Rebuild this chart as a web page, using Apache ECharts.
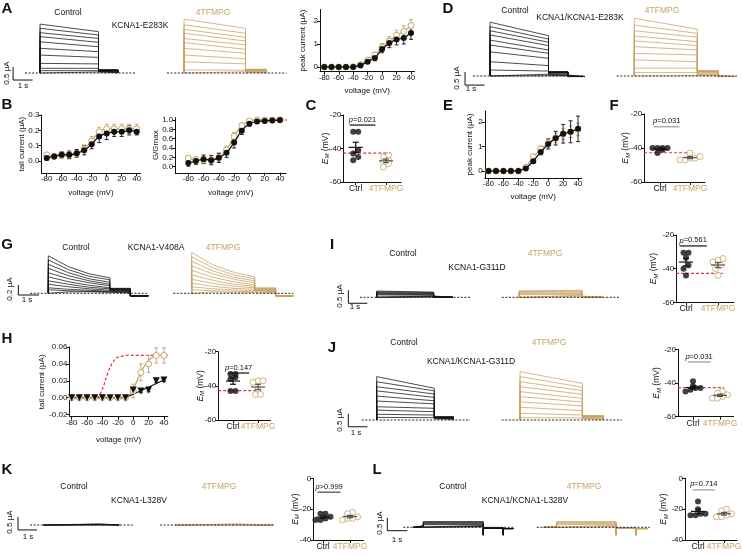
<!DOCTYPE html>
<html>
<head>
<meta charset="utf-8">
<script src="https://cdn.jsdelivr.net/npm/echarts@6.0.0/dist/echarts.min.js"></script>
<style>
  html, body { margin: 0; padding: 0; background: #fff; }
  #chart { width: 742px; height: 556px; }
</style>
</head>
<body>
<div id="chart"></div>
<script>
// ---------- data ----------
const voltages = [-80, -70, -60, -50, -40, -30, -20, -10, 0, 10, 20, 30, 40];
const xTickValues = [-80, -60, -40, -20, 0, 20, 40];

// protocol (s)
const STEP_ON = 0, STEP_OFF = 3, TAIL_OFF = 4;

// A  KCNA1-E283K current families (uA)
const aCtrlPeak = [1.88, 1.72, 1.55, 1.40, 1.20, 0.95, 0.69, 0.37, 0.18, 0.09, 0.04];
const aCtrlEnd  = [1.59, 1.46, 1.33, 1.18, 1.01, 0.82, 0.60, 0.35, 0.18, 0.09, 0.04];
const aCtrlTail = [0.12, 0.12, 0.11, 0.11, 0.10, 0.09, 0.08, 0.06, 0.04, 0.02, 0.01];
const aTanPeak  = [2.07, 1.85, 1.68, 1.53, 1.33, 1.17, 0.95, 0.69, 0.43, 0.12, 0.05];
const aTanEnd   = [1.72, 1.53, 1.37, 1.23, 1.08, 0.91, 0.76, 0.55, 0.35, 0.11, 0.05];
const aTanTail  = [0.14, 0.14, 0.13, 0.13, 0.12, 0.11, 0.10, 0.08, 0.06, 0.02, 0.01];

// A  peak current I-V
const aPeakCtrl    = [0, 0, 0, 0, 0, 0.06, 0.23, 0.39, 0.78, 1.04, 1.20, 1.26, 1.48];
const aPeakCtrlErr = [0.02, 0.02, 0.02, 0.02, 0.02, 0.04, 0.08, 0.12, 0.16, 0.20, 0.24, 0.26, 0.28];
const aPeakTan     = [0, 0, 0, 0, 0.01, 0.10, 0.30, 0.52, 0.86, 1.12, 1.38, 1.55, 1.80];
const aPeakTanErr  = [0.02, 0.02, 0.02, 0.02, 0.02, 0.05, 0.10, 0.12, 0.16, 0.20, 0.22, 0.24, 0.26];

// B  tail current and G/Gmax
const bTailCtrl    = [0.02, 0.03, 0.04, 0.04, 0.05, 0.07, 0.11, 0.16, 0.18, 0.19, 0.19, 0.20, 0.19];
const bTailCtrlErr = [0.015, 0.015, 0.02, 0.025, 0.025, 0.03, 0.03, 0.04, 0.04, 0.03, 0.03, 0.03, 0.02];
const bTailTan     = [0.04, 0.03, 0.04, 0.04, 0.05, 0.08, 0.13, 0.19, 0.21, 0.21, 0.21, 0.21, 0.21];
const bTailTanErr  = [0.01, 0.015, 0.015, 0.02, 0.02, 0.025, 0.03, 0.03, 0.03, 0.03, 0.03, 0.03, 0.03];
const bGCtrl    = [0.08, 0.12, 0.16, 0.14, 0.19, 0.30, 0.52, 0.77, 0.92, 0.97, 0.98, 0.99, 1.00];
const bGCtrlErr = [0.07, 0.07, 0.09, 0.10, 0.10, 0.10, 0.12, 0.08, 0.05, 0.03, 0.02, 0.02, 0.01];
const bGTan     = [0.18, 0.15, 0.14, 0.15, 0.20, 0.36, 0.65, 0.88, 0.98, 1.00, 1.00, 1.00, 1.00];
const bGTanErr  = [0.05, 0.06, 0.08, 0.08, 0.08, 0.08, 0.08, 0.05, 0.03, 0.02, 0.01, 0.01, 0.01];
const bGRefV = [0, 10, 20, 30, 40, 50];
const bGRef  = [0.99, 1, 1, 1, 1, 1];

// D  KCNA1/KCNA1-E283K families
const dCtrlPeak = [2.07, 1.90, 1.74, 1.58, 1.38, 1.19, 0.93, 0.55, 0.23, 0.07, 0.01];
const dCtrlEnd  = [1.55, 1.42, 1.30, 1.17, 1.00, 0.87, 0.68, 0.40, 0.19, 0.07, 0.01];
const dCtrlTail = [0.16, 0.16, 0.15, 0.15, 0.14, 0.13, 0.11, 0.08, 0.04, 0.02, 0.01];
const dTanPeak  = [2.22, 1.96, 1.74, 1.54, 1.35, 1.13, 0.87, 0.62, 0.30, 0.13, 0.02];
const dTanEnd   = [1.80, 1.64, 1.49, 1.32, 1.17, 1.00, 0.81, 0.55, 0.30, 0.13, 0.02];
const dTanTail  = [0.20, 0.20, 0.19, 0.18, 0.17, 0.16, 0.14, 0.10, 0.06, 0.03, 0.01];
const dPost = -0.02;

// E  peak current I-V
const ePeakCtrl    = [0, 0, 0, 0, 0, 0.10, 0.40, 0.78, 1.10, 1.34, 1.52, 1.60, 1.72];
const ePeakCtrlErr = [0.02, 0.02, 0.02, 0.02, 0.02, 0.04, 0.08, 0.12, 0.20, 0.28, 0.38, 0.45, 0.52];
const ePeakTan     = [0, 0, 0, 0, 0, 0.15, 0.58, 0.90, 1.15, 1.35, 1.50, 1.60, 1.70];
const ePeakTanErr  = [0.02, 0.02, 0.02, 0.02, 0.02, 0.05, 0.10, 0.12, 0.18, 0.20, 0.22, 0.24, 0.26];

// G  KCNA1-V408A families
const gCtrlPeak = [0.75, 0.67, 0.58, 0.50, 0.41, 0.33, 0.25, 0.18, 0.11, 0.07, 0.03];
const gCtrlAt1s = [0.53, 0.47, 0.41, 0.35, 0.29, 0.23, 0.18, 0.13, 0.08, 0.05, 0.03];
const gCtrlAt2s = [0.39, 0.34, 0.29, 0.25, 0.21, 0.16, 0.12, 0.09, 0.06, 0.04, 0.03];
const gCtrlEnd  = [0.31, 0.27, 0.22, 0.18, 0.15, 0.11, 0.09, 0.06, 0.04, 0.03, 0.02];
const gCtrlTail = [0.10, 0.09, 0.09, 0.08, 0.07, 0.06, 0.05, 0.04, 0.03, 0.02, 0.01];
const gTanPeak  = [0.82, 0.73, 0.64, 0.55, 0.46, 0.37, 0.28, 0.20, 0.13, 0.07, 0.03];
const gTanAt1s  = [0.57, 0.51, 0.45, 0.39, 0.32, 0.26, 0.20, 0.14, 0.09, 0.05, 0.03];
const gTanAt2s  = [0.42, 0.37, 0.32, 0.28, 0.23, 0.18, 0.14, 0.10, 0.07, 0.04, 0.02];
const gTanEnd   = [0.33, 0.29, 0.25, 0.21, 0.17, 0.14, 0.11, 0.08, 0.05, 0.03, 0.02];
const gTanTail  = [0.11, 0.10, 0.09, 0.08, 0.07, 0.06, 0.05, 0.04, 0.03, 0.02, 0.01];
const gPost = -0.05;

// H  tail current (uA)
const hTailCtrl    = [0, 0, 0, 0, 0, 0, 0, 0, 0.009, 0.008, 0.009, 0.020, 0.021];
const hTailCtrlErr = [0.001, 0.001, 0.001, 0.001, 0.001, 0.001, 0.001, 0.001, 0.002, 0.002, 0.002, 0.002, 0.002];
const hTailTan     = [0, 0, 0, 0, 0, 0, 0, 0, 0.008, 0.030, 0.040, 0.050, 0.050];
const hTailTanErr  = [0.001, 0.001, 0.001, 0.001, 0.001, 0.001, 0.001, 0.001, 0.008, 0.010, 0.010, 0.009, 0.009];
const hCtrlFitV = [-80, -10, 40];
const hCtrlFit  = [0, 0, 0.021];
const hTanFitV = [-80, -10, -5, 0, 5, 10, 15, 20, 25, 30, 35, 40];
const hTanFit  = [0, 0, 0.003, 0.010, 0.020, 0.030, 0.038, 0.044, 0.048, 0.050, 0.050, 0.050];
const hRefV = [-48, -45, -40, -35, -30, -25, -20, -15, -10, 0, 10, 20, 30, 40, 45];
const hRef  = [0, 0.002, 0.010, 0.024, 0.036, 0.044, 0.048, 0.049, 0.050, 0.050, 0.050, 0.050, 0.050, 0.050, 0.050];

// I  KCNA1-G311D families
const iCtrlPeak = [0.24, 0.21, 0.18, 0.15, 0.12, 0.09, 0.06, 0.03, 0.01];
const iCtrlEnd  = [0.20, 0.18, 0.15, 0.13, 0.10, 0.08, 0.05, 0.03, 0.01];
const iCtrlTail = [0.01, 0.01, 0.01, 0.01, 0.01, 0, 0, 0, 0];
const iTanPeak  = [0.25, 0.22, 0.19, 0.16, 0.13, 0.10, 0.07, 0.04, 0.01];
const iTanEnd   = [0.27, 0.24, 0.21, 0.17, 0.14, 0.11, 0.08, 0.05, 0.02];
const iTanTail  = [0.01, 0.01, 0.01, 0.01, 0.01, 0, 0, 0, 0];

// J  KCNA1/KCNA1-G311D families
const jCtrlPeak = [1.67, 1.47, 1.28, 1.12, 0.92, 0.73, 0.51, 0.38, 0.22, 0.10];
const jCtrlEnd  = [1.22, 1.12, 1.00, 0.87, 0.74, 0.62, 0.45, 0.32, 0.19, 0.09];
const jCtrlTail = [0.12, 0.12, 0.11, 0.11, 0.10, 0.09, 0.08, 0.06, 0.04, 0.02];
const jTanPeak  = [1.86, 1.67, 1.47, 1.28, 1.09, 0.90, 0.70, 0.49, 0.26, 0.09];
const jTanEnd   = [1.41, 1.26, 1.13, 0.99, 0.83, 0.69, 0.54, 0.36, 0.19, 0.08];
const jTanTail  = [0.17, 0.16, 0.15, 0.14, 0.13, 0.12, 0.10, 0.07, 0.04, 0.02];

// K  KCNA1-L328V families
const kCtrlPeak = [0.04, 0.03, 0.02, 0.01, 0];
const kCtrlEnd  = [0.04, 0.03, 0.02, 0.01, 0];
const kCtrlTail = [0, 0, 0, 0, 0];
const kTanPeak  = [0.04, 0.03, 0.02, 0.01, 0];
const kTanEnd   = [0.04, 0.03, 0.02, 0.01, 0];
const kTanTail  = [0, 0, 0, 0, 0];
const kPost = 0;

// L  KCNA1/KCNA1-L328V families
const lCtrlPre  = [0.06, 0.05, 0.04, 0.03, 0.02, 0.01, 0, 0];
const lCtrlPeak = [0.22, 0.19, 0.16, 0.13, 0.10, 0.07, 0.04, 0.02];
const lCtrlEnd  = [0.22, 0.19, 0.16, 0.13, 0.10, 0.07, 0.04, 0.02];
const lCtrlTail = [-0.04, -0.04, -0.04, -0.03, -0.03, -0.02, -0.02, -0.01];
const lTanPre   = [0.05, 0.04, 0.03, 0.02, 0.02, 0.01, 0, 0];
const lTanPeak  = [0.22, 0.19, 0.16, 0.13, 0.10, 0.07, 0.04, 0.02];
const lTanEnd   = [0.22, 0.19, 0.16, 0.13, 0.10, 0.07, 0.04, 0.02];
const lTanTail  = [-0.04, -0.04, -0.04, -0.03, -0.03, -0.02, -0.02, -0.01];
const lSpike = -0.3;
const lPost = -0.05;

// resting potentials E_M (mV)
const wtEm = -42.8;
const cEmCtrl = [-30, -30, -41, -43, -45, -47];
const cEmTan  = [-44, -45, -47, -48, -49, -51];
const fEmCtrl = [-40, -40, -40, -40, -41, -43];
const fEmTan  = [-43, -45, -46, -46, -47, -47];
const hEmCtrl = [-33, -33, -35, -36, -43, -43];
const hEmTan  = [-37, -37, -38, -42, -45, -45];
const iEmCtrl = [-30.5, -30.5, -33.5, -38, -40, -44];
const iEmTan  = [-34, -35, -36, -38, -40, -44];
const jEmCtrl = [-39, -42, -43, -43, -44, -45];
const jEmTan  = [-45, -46, -47, -48, -49, -49];
const kEmCtrl = [-23, -23, -25, -26, -27, -27];
const kEmTan  = [-22, -23, -25, -26, -26, -27];
const lEmCtrl = [-15, -20, -23, -23, -24, -24];
const lEmTan  = [-20, -21, -23, -24, -25, -25];
const pLabels = { C: '=0.021', F: '=0.031', H: '=0.147', I: '=0.561', J: '=0.031', K: '>0.999', L: '=0.714' };

// ---------- style ----------
const FONT = '"Liberation Sans", Arial, sans-serif';
const BLACK = '#111';
const TAN = '#c6a264';
const RED = '#e0353d';

const grids = [], xAxes = [], yAxes = [], series = [], graphics = [];

function pxGrid(zeroX, sx, xMin, xMax, zeroY, sy, yMin, yMax) {
  grids.push({
    left: zeroX + xMin * sx, width: (xMax - xMin) * sx,
    top: zeroY - yMax * sy, height: (yMax - yMin) * sy,
    containLabel: false, outerBoundsMode: 'none'
  });
  return grids.length - 1;
}

function txt(text, x, y, o = {}) {
  graphics.push({
    type: 'text', x: x, y: y, rotation: o.rot || 0, silent: true,
    style: {
      text: text, fill: o.color || BLACK, fontFamily: FONT,
      fontSize: o.size || 8.5, fontWeight: o.bold ? 'bold' : 'normal',
      align: 'center', verticalAlign: 'middle', textAlign: 'center', textVerticalAlign: 'middle'
    }
  });
}

// ---------- current traces ----------
function sweepPath(f, lay, i) {
  const pts = [];
  if (f.pre) {
    pts.push([lay.preStart, 0], [lay.preStart, f.pre[i]], [STEP_ON, f.pre[i]]);
  } else {
    pts.push([STEP_ON, 0]);
  }
  pts.push([STEP_ON, f.peak[i]]);
  if (f.at1) pts.push([1, f.at1[i]]);
  if (f.at2) pts.push([2, f.at2[i]]);
  pts.push([STEP_OFF, f.end[i]]);
  if (f.spike != null) pts.push([STEP_OFF, f.spike]);
  pts.push([STEP_OFF, f.tail[i]], [TAIL_OFF, f.tail[i]]);
  if (f.spike != null) pts.push([TAIL_OFF, f.spike]);
  if (f.post != null) pts.push([TAIL_OFF, f.post], [lay.postEnd, f.post]);
  else pts.push([TAIL_OFF, 0]);
  return pts;
}

function traceLine(xi, yi, pts, color, width, z, dash) {
  series.push({
    type: 'line', xAxisIndex: xi, yAxisIndex: yi, data: pts, silent: true, z: z,
    showSymbol: false, symbol: 'none', clip: false,
    lineStyle: { color: color, width: width, type: dash || 'solid' }
  });
}

function addTraces(lay, f, color) {
  const xMin = -2.5, xMax = 5.5;
  const g = pxGrid(lay.t0, lay.ps, xMin, xMax, lay.base, lay.pu, lay.yMin, lay.yMax);
  xAxes.push({ gridIndex: g, type: 'value', min: xMin, max: xMax, show: false });
  yAxes.push({ gridIndex: g, type: 'value', min: lay.yMin, max: lay.yMax, show: false });
  const xi = xAxes.length - 1, yi = yAxes.length - 1;
  f.peak.forEach((p, i) => traceLine(xi, yi, sweepPath(f, lay, i), color, 0.75, 2));
  traceLine(xi, yi, [[lay.dot[0], 0], [lay.dot[1], 0]], '#222', 1, 3, [2, 1.6]);
  if (lay.bar) {
    const b = lay.bar;
    traceLine(xi, yi, [[b.t, b.y + b.v], [b.t, b.y], [b.t + 1, b.y]], BLACK, 1, 3);
  }
}

const traceLayout = {
  aCtrl: { t0: 40, ps: 19.5, base: 73, pu: 26, yMin: -0.5, yMax: 2.4, dot: [-0.77, 4.87], bar: { t: -1.38, y: -0.27, v: 0.5 } },
  aTan:  { t0: 184, ps: 20.5, base: 73, pu: 26, yMin: -0.5, yMax: 2.4, dot: [-0.83, 5.0] },
  dCtrl: { t0: 490, ps: 19.5, base: 76, pu: 26, yMin: -0.5, yMax: 2.4, dot: [-0.87, 4.87], bar: { t: -1.28, y: -0.35, v: 0.5 }, postEnd: 4.85 },
  dTan:  { t0: 634.3, ps: 21, base: 76, pu: 26, yMin: -0.5, yMax: 2.4, dot: [-0.84, 4.88], postEnd: 4.85 },
  gCtrl: { t0: 48.3, ps: 20.5, base: 293.3, pu: 50, yMin: -0.2, yMax: 0.9, dot: [-0.89, 4.88], bar: { t: -1.46, y: -0.034, v: 0.2 }, postEnd: 4.88 },
  gTan:  { t0: 191.7, ps: 21, base: 293.3, pu: 50, yMin: -0.2, yMax: 0.9, dot: [-0.88, 4.84], postEnd: 4.84 },
  iCtrl: { t0: 376.7, ps: 19, base: 297.3, pu: 26, yMin: -0.5, yMax: 0.6, dot: [-0.88, 4.91], bar: { t: -1.49, y: -0.23, v: 0.5 } },
  iTan:  { t0: 519, ps: 21, base: 297.3, pu: 26, yMin: -0.5, yMax: 0.6, dot: [-0.82, 4.81] },
  jCtrl: { t0: 376.7, ps: 19.2, base: 420, pu: 26, yMin: -0.5, yMax: 2.0, dot: [-0.78, 4.86], bar: { t: -1.48, y: -0.26, v: 0.5 } },
  jTan:  { t0: 520, ps: 20.8, base: 420, pu: 26, yMin: -0.5, yMax: 2.0, dot: [-0.88, 4.89] },
  kCtrl: { t0: 43.3, ps: 19, base: 525, pu: 26, yMin: -0.5, yMax: 0.6, dot: [-0.7, 4.74], bar: { t: -1.33, y: -0.19, v: 0.5 } },
  kTan:  { t0: 175, ps: 21, base: 525, pu: 26, yMin: -0.5, yMax: 0.6, dot: [-0.71, 4.68], postEnd: 4.68 },
  lCtrl: { t0: 423.3, ps: 20, base: 527.3, pu: 26, yMin: -0.5, yMax: 0.6, dot: [-1.0, 4.5], bar: { t: -1.8, y: -0.13, v: 0.5 }, preStart: -0.5, postEnd: 4.5 },
  lTan:  { t0: 556.7, ps: 19.8, base: 527.3, pu: 26, yMin: -0.5, yMax: 0.6, dot: [-1.01, 4.71], preStart: -0.68, postEnd: 4.6 }
};

addTraces(traceLayout.aCtrl, { peak: aCtrlPeak, end: aCtrlEnd, tail: aCtrlTail }, BLACK);
addTraces(traceLayout.aTan, { peak: aTanPeak, end: aTanEnd, tail: aTanTail }, TAN);
addTraces(traceLayout.dCtrl, { peak: dCtrlPeak, end: dCtrlEnd, tail: dCtrlTail, post: dPost }, BLACK);
addTraces(traceLayout.dTan, { peak: dTanPeak, end: dTanEnd, tail: dTanTail, post: dPost }, TAN);
addTraces(traceLayout.gCtrl, { peak: gCtrlPeak, at1: gCtrlAt1s, at2: gCtrlAt2s, end: gCtrlEnd, tail: gCtrlTail, post: gPost }, BLACK);
addTraces(traceLayout.gTan, { peak: gTanPeak, at1: gTanAt1s, at2: gTanAt2s, end: gTanEnd, tail: gTanTail, post: gPost }, TAN);
addTraces(traceLayout.iCtrl, { peak: iCtrlPeak, end: iCtrlEnd, tail: iCtrlTail }, BLACK);
addTraces(traceLayout.iTan, { peak: iTanPeak, end: iTanEnd, tail: iTanTail }, TAN);
addTraces(traceLayout.jCtrl, { peak: jCtrlPeak, end: jCtrlEnd, tail: jCtrlTail }, BLACK);
addTraces(traceLayout.jTan, { peak: jTanPeak, end: jTanEnd, tail: jTanTail }, TAN);
addTraces(traceLayout.kCtrl, { peak: kCtrlPeak, end: kCtrlEnd, tail: kCtrlTail }, BLACK);
addTraces(traceLayout.kTan, { peak: kTanPeak, end: kTanEnd, tail: kTanTail, post: kPost }, TAN);
addTraces(traceLayout.lCtrl, { pre: lCtrlPre, peak: lCtrlPeak, end: lCtrlEnd, tail: lCtrlTail, spike: lSpike, post: lPost }, BLACK);
addTraces(traceLayout.lTan, { pre: lTanPre, peak: lTanPeak, end: lTanEnd, tail: lTanTail, spike: lSpike, post: lPost }, TAN);

// ---------- x-y plots ----------
function axisPair(g, c) {
  const lbl = { fontSize: c.fs || 8, fontFamily: FONT, color: BLACK, margin: 2 };
  const xl = Object.assign({}, lbl, { fontSize: c.xfs || c.fs || 8 });
  xAxes.push({
    gridIndex: g, type: 'value', min: c.xMin, max: c.xMax,
    axisLine: { onZero: false, lineStyle: { color: BLACK, width: 1 } },
    axisTick: { length: 3, customValues: c.xTicks, lineStyle: { color: BLACK } },
    axisLabel: Object.assign({ customValues: c.xTicks, formatter: c.xFmt || (v => String(v)), rich: c.xRich }, xl),
    splitLine: { show: false },
    name: c.xName, nameLocation: 'middle', nameGap: c.xGap, nameMoveOverlap: false,
    nameTextStyle: { fontSize: 8, fontFamily: FONT, color: BLACK }
  });
  yAxes.push({
    gridIndex: g, type: 'value', min: c.yMin, max: c.yMax,
    axisLine: { onZero: false, lineStyle: { color: BLACK, width: 1 } },
    axisTick: { length: 3, customValues: c.yTicks, lineStyle: { color: BLACK } },
    axisLabel: Object.assign({ customValues: c.yTicks, formatter: c.yFmt || (v => String(v)) }, lbl),
    splitLine: { show: false },
    name: c.yName, nameLocation: 'middle', nameGap: c.yGap, nameMoveOverlap: false,
    nameTextStyle: Object.assign({ fontSize: 8, fontFamily: FONT, color: BLACK }, c.yNameStyle || {})
  });
  return [xAxes.length - 1, yAxes.length - 1];
}

function errorBars(xi, yi, xs, ys, es, color) {
  series.push({
    type: 'custom', xAxisIndex: xi, yAxisIndex: yi, silent: true, z: 2,
    data: xs.map((x, i) => [x, ys[i], es[i]]),
    renderItem: function (params, api) {
      const x = api.value(0), y = api.value(1), e = api.value(2);
      const hi = api.coord([x, y + e]), lo = api.coord([x, y - e]);
      const st = { stroke: color, lineWidth: 0.9 };
      return { type: 'group', children: [
        { type: 'line', shape: { x1: hi[0], y1: hi[1], x2: lo[0], y2: lo[1] }, style: st },
        { type: 'line', shape: { x1: hi[0] - 2, y1: hi[1], x2: hi[0] + 2, y2: hi[1] }, style: st },
        { type: 'line', shape: { x1: lo[0] - 2, y1: lo[1], x2: lo[0] + 2, y2: lo[1] }, style: st }
      ] };
    }
  });
}

function ivSeries(xi, yi, xs, ys, es, isTan, o = {}) {
  const color = isTan ? TAN : BLACK;
  errorBars(xi, yi, xs, ys, es, color);
  series.push({
    type: 'line', xAxisIndex: xi, yAxisIndex: yi, silent: true, z: isTan ? 3 : 4,
    data: xs.map((x, i) => [x, ys[i]]),
    smooth: o.smooth || false,
    lineStyle: { color: color, width: o.noLine ? 0 : 1.2, opacity: o.noLine ? 0 : 1 },
    symbol: o.symbol || 'circle', symbolSize: o.size || 6, symbolRotate: o.rotate || 0,
    itemStyle: isTan ? { color: '#fff', borderColor: TAN, borderWidth: 1 } : { color: BLACK, borderWidth: 0 }
  });
}

function plainLine(xi, yi, xs, ys, color, o = {}) {
  series.push({
    type: 'line', xAxisIndex: xi, yAxisIndex: yi, silent: true, z: o.z || 2,
    data: xs.map((x, i) => [x, ys[i]]), smooth: o.smooth || false, showSymbol: false, symbol: 'none',
    lineStyle: { color: color, width: o.width || 1.2, type: o.type || 'solid' }
  });
}

const fmt1 = v => v.toFixed(1);
const fmt2 = v => v.toFixed(2);

// A: peak current
{
  const g = pxGrid(382.1, 0.7225, -86, 45, 67, 23, -0.2, 2.5);
  const [xi, yi] = axisPair(g, { xMin: -86, xMax: 45, yMin: -0.2, yMax: 2.5, xTicks: xTickValues, yTicks: [0, 1, 2],
    xName: 'voltage (mV)', xGap: 15, yName: 'peak current (\u00b5A)', yGap: 13.5, fs: 8, xfs: 7.5 });
  ivSeries(xi, yi, voltages, aPeakTan, aPeakTanErr, true);
  ivSeries(xi, yi, voltages, aPeakCtrl, aPeakCtrlErr, false);
}
// B: tail current
{
  const g = pxGrid(106.7, 0.75, -87, 45, 161, 153.3, -0.08, 0.3);
  const [xi, yi] = axisPair(g, { xMin: -87, xMax: 45, yMin: -0.08, yMax: 0.3, xTicks: xTickValues, yTicks: [0, 0.1, 0.2, 0.3],
    yFmt: fmt1, xName: 'voltage (mV)', xGap: 15.5, yName: 'tail current (\u00b5A)', yGap: 16, fs: 8, xfs: 8 });
  ivSeries(xi, yi, voltages, bTailTan, bTailTanErr, true, { smooth: 0.4 });
  ivSeries(xi, yi, voltages, bTailCtrl, bTailCtrlErr, false, { smooth: 0.4 });
}
// B: G/Gmax
{
  const g = pxGrid(249.4, 0.764, -97, 48, 166.7, 46.7, -0.13, 1.05);
  const [xi, yi] = axisPair(g, { xMin: -97, xMax: 48, yMin: -0.13, yMax: 1.05, xTicks: xTickValues, yTicks: [0, 0.2, 0.4, 0.6, 0.8, 1.0],
    yFmt: fmt1, xName: 'voltage (mV)', xGap: 16, yName: 'G/Gmax', yGap: 15, fs: 8, xfs: 8 });
  plainLine(xi, yi, bGRefV, bGRef, RED, { type: [3, 2], width: 1.2, z: 1 });
  ivSeries(xi, yi, voltages, bGTan, bGTanErr, true, { smooth: 0.4 });
  ivSeries(xi, yi, voltages, bGCtrl, bGCtrlErr, false, { smooth: 0.4 });
}
// E: peak current
{
  const g = pxGrid(548.2, 0.746, -85, 45, 171, 24.5, -0.28, 2.45);
  const [xi, yi] = axisPair(g, { xMin: -85, xMax: 45, yMin: -0.28, yMax: 2.45, xTicks: xTickValues, yTicks: [0, 1, 2],
    xName: 'voltage (mV)', xGap: 15, yName: 'peak current (\u00b5A)', yGap: 11, fs: 8, xfs: 7.5 });
  ivSeries(xi, yi, voltages, ePeakTan, ePeakTanErr, true);
  ivSeries(xi, yi, voltages, ePeakCtrl, ePeakCtrlErr, false);
}
// H: tail current
{
  const g = pxGrid(133.2, 0.769, -83, 45, 397.7, 845, -0.0225, 0.06);
  const [xi, yi] = axisPair(g, { xMin: -83, xMax: 45, yMin: -0.0225, yMax: 0.06, xTicks: xTickValues, yTicks: [-0.02, 0, 0.02, 0.04, 0.06],
    yFmt: fmt2, xName: 'voltage (mV)', xGap: 19, yName: 'tail current (\u00b5A)', yGap: 24, fs: 8, xfs: 8 });
  plainLine(xi, yi, hRefV, hRef, RED, { type: [3, 2], width: 1.2, smooth: 0.3, z: 1 });
  plainLine(xi, yi, hTanFitV, hTanFit, TAN, { smooth: 0.3 });
  plainLine(xi, yi, hCtrlFitV, hCtrlFit, BLACK);
  ivSeries(xi, yi, voltages, hTailTan, hTailTanErr, true, { noLine: true });
  ivSeries(xi, yi, voltages, hTailCtrl, hTailCtrlErr, false, { noLine: true, symbol: 'triangle', rotate: 180, size: 7 });
}

// ---------- E_M scatter plots ----------
// spread points that would overlap sideways, about one dot width apart
function swarm(values, center, c) {
  const step = 5 / c.s;          // horizontal step in category units
  const near = 5 / c.sy;         // values closer than this overlap
  const idx = values.map((v, i) => i).sort((a, b) => values[a] - values[b]);
  const out = new Array(values.length);
  let group = [];
  const flush = () => {
    group.forEach((k, j) => { out[k] = [center + (j - (group.length - 1) / 2) * step, values[k]]; });
    group = [];
  };
  idx.forEach(k => {
    if (group.length && values[k] - values[group[0]] >= near) flush();
    group.push(k);
  });
  flush();
  return out;
}
function mean(a) { return a.reduce((s, v) => s + v, 0) / a.length; }
function sem(a) {
  const m = mean(a);
  return Math.sqrt(a.reduce((s, v) => s + (v - m) * (v - m), 0) / (a.length - 1)) / Math.sqrt(a.length);
}

function emPlot(c) {
  const xMax = 2.5;
  const g = pxGrid(c.c1 - c.s, c.s, c.xMin, xMax, c.zeroY, c.sy, c.yMin, c.yMax);
  const [xi, yi] = axisPair(g, {
    xMin: c.xMin, xMax: xMax, yMin: c.yMin, yMax: c.yMax, xTicks: [1, 2], yTicks: c.yTicks,
    xFmt: v => (v === 1 ? '{c|Ctrl}' : '{t|4TFMPG}'),
    xRich: { c: { color: BLACK, fontSize: 8.5, fontFamily: FONT }, t: { color: TAN, fontSize: 8.5, fontFamily: FONT } },
    yName: '{e|E}{s|M}{n| (mV)}', yGap: c.yGap, fs: 8,
    yNameStyle: { rich: {
      e: { fontSize: 8.5, fontStyle: 'italic', fontFamily: FONT, color: BLACK },
      s: { fontSize: 6, fontStyle: 'italic', fontFamily: FONT, color: BLACK, padding: [4, 0, 0, 0] },
      n: { fontSize: 8.5, fontFamily: FONT, color: BLACK } } }
  });
  if (c.red) plainLine(xi, yi, [c.xMin, 2.15], [wtEm, wtEm], RED, { type: [3, 2], width: 1.2, z: 1 });
  series.push({ type: 'scatter', xAxisIndex: xi, yAxisIndex: yi, silent: true, z: 3,
    data: swarm(c.tan, 2, c), symbolSize: 6, itemStyle: { color: '#fff', borderColor: TAN, borderWidth: 1 } });
  series.push({ type: 'scatter', xAxisIndex: xi, yAxisIndex: yi, silent: true, z: 3,
    data: swarm(c.ctrl, 1, c), symbolSize: 6, itemStyle: { color: BLACK } });
  series.push({
    type: 'custom', xAxisIndex: xi, yAxisIndex: yi, silent: true, z: 5,
    data: [[1, mean(c.ctrl), sem(c.ctrl), 0], [2, mean(c.tan), sem(c.tan), 1]],
    renderItem: function (params, api) {
      const x = api.value(0), m = api.value(1), e = api.value(2);
      const col = api.value(3) ? '#555' : BLACK;
      const p = api.coord([x, m]), hi = api.coord([x, m + e]), lo = api.coord([x, m - e]);
      const st = { stroke: col, lineWidth: 1.2 };
      return { type: 'group', children: [
        { type: 'line', shape: { x1: p[0] - 7, y1: p[1], x2: p[0] + 7, y2: p[1] }, style: st },
        { type: 'line', shape: { x1: hi[0], y1: hi[1], x2: lo[0], y2: lo[1] }, style: st },
        { type: 'line', shape: { x1: hi[0] - 3, y1: hi[1], x2: hi[0] + 3, y2: hi[1] }, style: st },
        { type: 'line', shape: { x1: lo[0] - 3, y1: lo[1], x2: lo[0] + 3, y2: lo[1] }, style: st }
      ] };
    }
  });
  series.push({
    type: 'custom', xAxisIndex: xi, yAxisIndex: yi, silent: true, z: 5,
    data: [[0.8, 1.65, c.pY]],
    renderItem: function (params, api) {
      const a = api.coord([api.value(0), api.value(2)]), b = api.coord([api.value(1), api.value(2)]);
      return { type: 'group', children: [
        { type: 'line', shape: { x1: a[0], y1: a[1], x2: b[0], y2: b[1] }, style: { stroke: c.pColor, lineWidth: 1.2 } },
        { type: 'text', x: (a[0] + b[0]) / 2, y: a[1] - 1.5, style: {
          text: '{i|p}{n|' + c.p + '}', align: 'center', verticalAlign: 'bottom', fill: BLACK,
          rich: { i: { fontStyle: 'italic', fontSize: 7.5, fontFamily: FONT }, n: { fontSize: 7.5, fontFamily: FONT } } } }
      ] };
    }
  });
}

const emTicks = [-60, -40, -20];
const emTicksK = [-40, -20, 0];
emPlot({ c1: 355.7, s: 30.3, xMin: 0.59, zeroY: 81.5, sy: 1.675, yMin: -60, yMax: -20, yTicks: emTicks, yGap: 13,
  ctrl: cEmCtrl, tan: cEmTan, red: true, p: pLabels.C, pY: -26, pColor: BLACK });
emPlot({ c1: 660, s: 30, xMin: 0.47, zeroY: 80, sy: 1.7, yMin: -60, yMax: -20, yTicks: emTicks, yGap: 13,
  ctrl: fEmCtrl, tan: fEmTan, red: true, p: pLabels.F, pY: -27.5, pColor: '#999' });
emPlot({ c1: 233, s: 25, xMin: 0.41, zeroY: 317.55, sy: 1.7075, yMin: -60, yMax: -20, yTicks: emTicks, yGap: 13,
  ctrl: hEmCtrl, tan: hEmTan, red: true, p: pLabels.H, pY: -32.5, pColor: BLACK });
emPlot({ c1: 686, s: 32, xMin: 0.69, zeroY: 201.35, sy: 1.6825, yMin: -60, yMax: -20, yTicks: emTicks, yGap: 17,
  ctrl: iEmCtrl, tan: iEmTan, red: true, p: pLabels.I, pY: -26.5, pColor: BLACK });
emPlot({ c1: 693, s: 27, xMin: 0.44, zeroY: 315.6, sy: 1.685, yMin: -60, yMax: -20, yTicks: emTicks, yGap: 16,
  ctrl: jEmCtrl, tan: jEmTan, red: true, p: pLabels.J, pY: -27.5, pColor: '#999' });
emPlot({ c1: 323, s: 27, xMin: 0.64, zeroY: 478.3, sy: 1.5425, yMin: -40, yMax: 0, yTicks: emTicksK, yGap: 13,
  ctrl: kEmCtrl, tan: kEmTan, red: false, p: pLabels.K, pY: -9, pColor: '#444' });
emPlot({ c1: 698, s: 26, xMin: 0.5, zeroY: 478.3, sy: 1.5425, yMin: -40, yMax: 0, yTicks: emTicksK, yGap: 16,
  ctrl: lEmCtrl, tan: lEmTan, red: false, p: pLabels.L, pY: -7.5, pColor: '#999' });

// ---------- labels ----------
[['A', 7, 9], ['B', 7, 105], ['C', 311, 106], ['D', 448, 9], ['E', 448, 106], ['F', 614, 106],
 ['G', 7, 245], ['H', 7, 339], ['I', 332, 245], ['J', 332, 348], ['K', 7, 470], ['L', 377, 470]]
  .forEach(([t, x, y]) => txt(t, x, y, { size: 15, bold: true }));

const panelTitles = [
  ['Control', 68, 13, BLACK], ['KCNA1-E283K', 140, 26, BLACK], ['4TFMPG', 213, 13, TAN],
  ['Control', 515, 11, BLACK], ['KCNA1/KCNA1-E283K', 580, 18, BLACK], ['4TFMPG', 662, 11, TAN],
  ['Control', 76, 248, BLACK], ['KCNA1-V408A', 156, 248, BLACK], ['4TFMPG', 223, 248, TAN],
  ['Control', 403, 254, BLACK], ['KCNA1-G311D', 477, 268, BLACK], ['4TFMPG', 545, 254, TAN],
  ['Control', 404, 343, BLACK], ['KCNA1/KCNA1-G311D', 471, 362, BLACK], ['4TFMPG', 549, 343, TAN],
  ['Control', 74, 487, BLACK], ['KCNA1-L328V', 139, 501, BLACK], ['4TFMPG', 219, 487, TAN],
  ['Control', 453, 487, BLACK], ['KCNA1/KCNA1-L328V', 525, 501, BLACK], ['4TFMPG', 584, 487, TAN]
];
panelTitles.forEach(([t, x, y, c]) => txt(t, x, y, { color: c }));

const scaleLabels = [
  ['0.5 \u00b5A', 7, 73, '1 s', 23, 86],
  ['0.5 \u00b5A', 457, 78, '1 s', 471, 89],
  ['0.2 \u00b5A', 10, 289, '1 s', 27, 300],
  ['0.5 \u00b5A', 340, 296, '1 s', 355, 307],
  ['0.5 \u00b5A', 340, 420, '1 s', 356, 433],
  ['0.5 \u00b5A', 10, 522, '1 s', 28, 537],
  ['0.5 \u00b5A', 380, 523, '1 s', 397, 540]
];
scaleLabels.forEach(([v, vx, vy, h, hx, hy]) => {
  txt(v, vx, vy, { size: 8, rot: Math.PI / 2 });
  txt(h, hx, hy, { size: 8 });
});

const chart = echarts.init(document.getElementById('chart'), null, { renderer: 'canvas' });
chart.setOption({
  animation: false,
  backgroundColor: '#fff',
  grid: grids,
  xAxis: xAxes,
  yAxis: yAxes,
  series: series,
  graphic: { elements: graphics }
});
</script>
</body>
</html>
